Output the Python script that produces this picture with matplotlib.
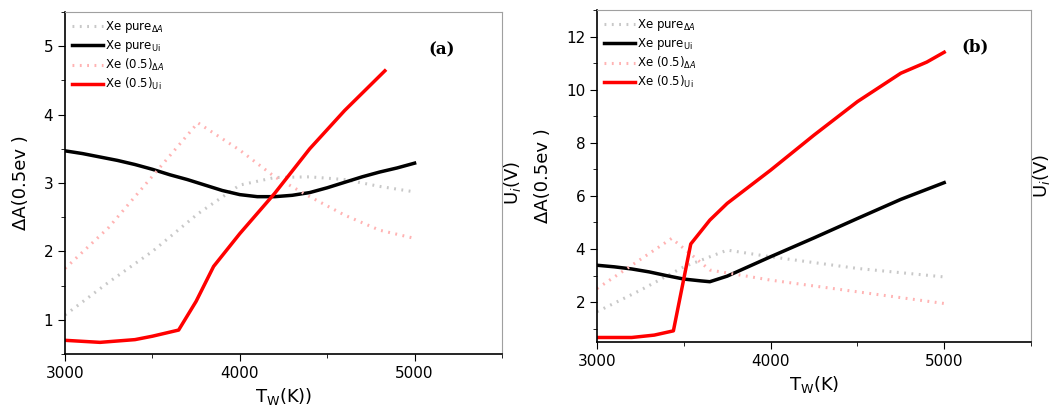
import matplotlib
matplotlib.use("Agg")
import matplotlib.pyplot as plt
from matplotlib.ticker import MultipleLocator

# ---------- Data: panel (a) ----------
a_T_black = [3000, 3100, 3200, 3300, 3400, 3500, 3600, 3700, 3800, 3900, 4000,
             4100, 4200, 4300, 4400, 4500, 4600, 4700, 4800, 4900, 5000]
a_pure_Ui = [3.47, 3.43, 3.38, 3.33, 3.27, 3.20, 3.12, 3.05, 2.97, 2.89, 2.83,
             2.80, 2.80, 2.82, 2.86, 2.93, 3.01, 3.09, 3.16, 3.22, 3.29]
a_T_red = [3000, 3200, 3400, 3500, 3650, 3750, 3850, 4000, 4200, 4400, 4600, 4830]
a_mix_Ui = [0.70, 0.67, 0.71, 0.76, 0.85, 1.27, 1.78, 2.26, 2.85, 3.50, 4.06, 4.64]
a_T_dA = [3000, 3250, 3500, 3760, 4000, 4200, 4400, 4600, 4800, 5000]
a_mix_dA = [1.75, 2.35, 3.10, 3.88, 3.48, 3.09, 2.80, 2.53, 2.31, 2.19]
a_pure_dA = [1.07, 1.55, 2.00, 2.55, 2.97, 3.08, 3.09, 3.05, 2.95, 2.87]

# ---------- Data: panel (b) ----------
b_T_black = [3000, 3100, 3200, 3300, 3400, 3500, 3600, 3650, 3750, 4000, 4250,
             4500, 4750, 5000]
b_pure_Ui = [3.39, 3.33, 3.25, 3.14, 3.00, 2.87, 2.80, 2.77, 2.98, 3.71, 4.42,
             5.15, 5.87, 6.50]
b_T_red = [3000, 3200, 3330, 3440, 3540, 3650, 3750, 4000, 4250, 4500, 4750, 4900, 5000]
b_mix_Ui = [0.67, 0.67, 0.76, 0.92, 4.19, 5.09, 5.72, 6.97, 8.29, 9.55, 10.62, 11.04, 11.41]
b_T_mixdA = [3000, 3430, 3650, 4000, 4500, 5000]
b_mix_dA = [2.51, 4.40, 3.21, 2.83, 2.39, 1.95]
b_T_puredA = [3000, 3250, 3500, 3750, 4000, 4500, 5000]
b_pure_dA = [1.64, 2.45, 3.33, 3.96, 3.71, 3.27, 2.95]

labels = ["Xe pure$_{\\Delta A}$", "Xe pure$_{\\mathrm{Ui}}$",
          "Xe (0.5)$_{\\Delta A}$", "Xe (0.5)$_{\\mathrm{Ui}}$"]

fig = plt.figure(figsize=(10.61, 4.12), dpi=100)
axA = fig.add_axes([0.0613, 0.1408, 0.4118, 0.8301])
axB = fig.add_axes([0.5627, 0.1699, 0.4090, 0.8058])

def style(ax, ylim, ymaj, ymin, xlabel, tag, tagpos):
    ax.set_xlim(3000, 5500)
    ax.set_ylim(*ylim)
    ax.set_xticks([3000, 4000, 5000])
    ax.xaxis.set_minor_locator(MultipleLocator(500))
    ax.yaxis.set_major_locator(MultipleLocator(ymaj))
    ax.yaxis.set_minor_locator(MultipleLocator(ymin))
    ax.tick_params(which="both", direction="out", labelsize=11, top=False, right=False)
    ax.tick_params(which="major", length=5)
    ax.tick_params(which="minor", length=3)
    for s in ["top", "right"]:
        ax.spines[s].set_color("#a0a0a0")
        ax.spines[s].set_linewidth(0.8)
    for s in ["left", "bottom"]:
        ax.spines[s].set_linewidth(1.2)
    ax.set_xlabel(xlabel, fontsize=13)
    ax.set_ylabel("ΔA(0.5ev )", fontsize=13, labelpad=10)
    ax.text(1.025, 0.5, "U$_i$(V)", transform=ax.transAxes, rotation=90,
            va="center", ha="center", fontsize=13)
    ax.text(tagpos[0], tagpos[1], tag, transform=ax.transAxes, fontsize=12,
            fontweight="bold", family="DejaVu Serif", ha="center", va="center")
    ax.legend(loc="upper left", frameon=False, fontsize=8.5, handlelength=2.6,
              handletextpad=0.2, labelspacing=0.25, borderaxespad=0.2)

dot_gray = dict(color="#c8c8c8", lw=2.2, ls=(0, (0.6, 1.8)))
dot_pink = dict(color="#ffb3b3", lw=2.2, ls=(0, (0.6, 1.8)))

axA.plot(a_T_dA, a_pure_dA, label=labels[0], **dot_gray)
axA.plot(a_T_black, a_pure_Ui, color="black", lw=2.5, label=labels[1])
axA.plot(a_T_dA, a_mix_dA, label=labels[2], **dot_pink)
axA.plot(a_T_red, a_mix_Ui, color="#ff0000", lw=2.5, label=labels[3])
style(axA, (0.5, 5.5), 1, 0.5, "T$_\\mathrm{W}$(K))", "(a)", (0.862, 0.89))

axB.plot(b_T_puredA, b_pure_dA, label=labels[0], **dot_gray)
axB.plot(b_T_black, b_pure_Ui, color="black", lw=2.5, label=labels[1])
axB.plot(b_T_mixdA, b_mix_dA, label=labels[2], **dot_pink)
axB.plot(b_T_red, b_mix_Ui, color="#ff0000", lw=2.5, label=labels[3])
style(axB, (0.5, 13), 2, 1, "T$_\\mathrm{W}$(K)", "(b)", (0.872, 0.89))

fig.savefig("out.png", dpi=100)
